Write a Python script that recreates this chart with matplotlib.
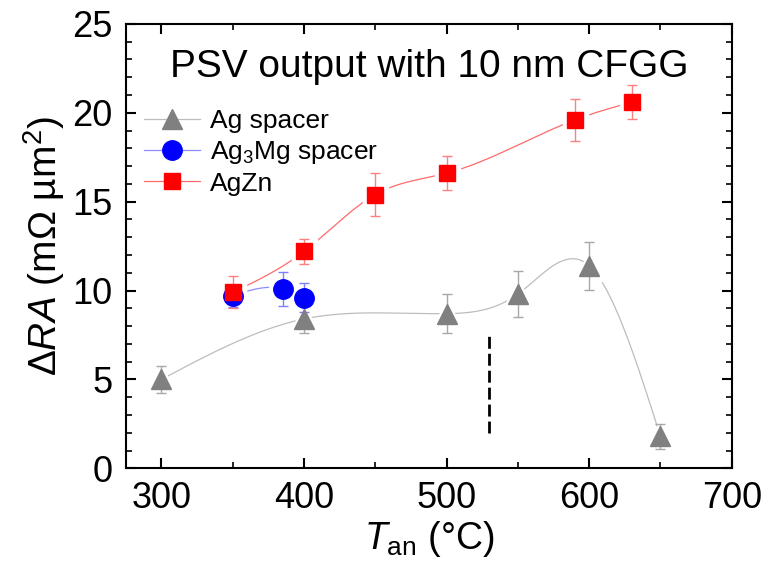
import numpy as np
import matplotlib
matplotlib.use("Agg")
import matplotlib.pyplot as plt

plt.rcParams['font.family'] = ['Liberation Sans', 'DejaVu Sans']
plt.rcParams['mathtext.fontset'] = 'custom'
plt.rcParams['mathtext.rm'] = 'Liberation Sans'
plt.rcParams['mathtext.it'] = 'Liberation Sans:italic'

# ---------------- data ----------------
ag_T = [300, 400, 500, 550, 600, 650]
ag_RA = [5.0, 8.4, 8.7, 9.8, 11.4, 1.8]
ag_err = [0.75, 0.8, 1.1, 1.3, 1.35, 0.7]

mg_T = [350, 385, 400]
mg_RA = [9.7, 10.1, 9.6]
mg_err = [0.6, 0.95, 0.8]

zn_T = [350, 400, 450, 500, 590, 630]
zn_RA = [9.9, 12.2, 15.4, 16.6, 19.6, 20.6]
zn_err = [0.9, 0.7, 1.2, 0.95, 1.2, 0.95]

dash_T = 530
dash_range = [2.0, 7.5]

title_text = "PSV output with 10 nm CFGG"
labels = ["Ag spacer", "Ag$_3$Mg spacer", "AgZn"]


def natural_spline(x, y, n=300):
    x = np.asarray(x, float)
    y = np.asarray(y, float)
    N = len(x)
    h = np.diff(x)
    M = np.zeros(N)
    if N > 2:
        A = np.zeros((N - 2, N - 2))
        b = np.zeros(N - 2)
        for i in range(1, N - 1):
            r = i - 1
            A[r, r] = 2 * (h[i - 1] + h[i])
            if r > 0:
                A[r, r - 1] = h[i - 1]
            if r < N - 3:
                A[r, r + 1] = h[i]
            b[r] = 6 * ((y[i + 1] - y[i]) / h[i] - (y[i] - y[i - 1]) / h[i - 1])
        M[1:-1] = np.linalg.solve(A, b)
    xs = np.linspace(x[0], x[-1], n)
    idx = np.clip(np.searchsorted(x, xs) - 1, 0, N - 2)
    x0, x1 = x[idx], x[idx + 1]
    hh = x1 - x0
    t0 = x1 - xs
    t1 = xs - x0
    ys = (M[idx] * t0 ** 3 / (6 * hh) + M[idx + 1] * t1 ** 3 / (6 * hh)
          + (y[idx] / hh - M[idx] * hh / 6) * t0
          + (y[idx + 1] / hh - M[idx + 1] * hh / 6) * t1)
    return xs, ys


fig = plt.figure(figsize=(7.67, 5.69), dpi=100)
ax = fig.add_axes([0.164, 0.177, 0.790, 0.781])

series = [
    (ag_T, ag_RA, ag_err, '^', 15, '#808080', '#bdbdbd', '#a8a8a8'),
    (mg_T, mg_RA, mg_err, 'o', 14, '#0000ff', '#8c8cff', '#7f7fff'),
    (zn_T, zn_RA, zn_err, 's', 12, '#ff0000', '#ff6a6a', '#ff8080'),
]

handles = []
for (T, RA, err, mk, ms, col, lcol, ecol), lab in zip(series, labels):
    xs, ys = natural_spline(T, RA)
    ax.plot(xs, ys, color=lcol, lw=0.9, zorder=1)
    # white halo to give a gap between curve and symbol
    ax.plot(T, RA, ls='none', marker=mk, ms=ms + 6, mfc='white', mec='white', zorder=2)
    ax.errorbar(T, RA, yerr=err, fmt='none', ecolor=ecol, elinewidth=1.0,
                capsize=3.6, capthick=1.0, zorder=3)
    ax.plot(T, RA, ls='none', marker=mk, ms=ms, mfc=col, mec=col, zorder=4)
    h, = ax.plot([], [], color=lcol, lw=0.9, marker=mk, ms=ms, mfc=col, mec=col)
    handles.append(h)

ax.plot([dash_T, dash_T], dash_range, color='black', lw=2.0, dashes=(4.3, 1.8), zorder=1)

ax.set_xlim(275, 700)
ax.set_ylim(0, 25)
ax.set_xticks([300, 400, 500, 600, 700])
ax.set_xticks(np.arange(300, 700, 50), minor=True)
ax.set_yticks([0, 5, 10, 15, 20, 25])
ax.set_yticks(np.arange(0, 25, 1), minor=True)
ax.tick_params(which='both', direction='in', top=True, right=True, labelsize=26, pad=9.5)
ax.tick_params(which='major', length=7, width=1.5)
ax.tick_params(which='minor', length=4, width=1.2)
for s in ax.spines.values():
    s.set_linewidth(1.5)

ax.set_xlabel(r'$\mathit{T}_{\mathrm{an}}$ (°C)', fontsize=27, labelpad=2)
ax.set_ylabel(r'Δ$\mathit{RA}$ (mΩ µm$^{2}$)', fontsize=28, labelpad=4)

ax.text(0.5, 0.88, title_text, transform=ax.transAxes, ha='center', va='baseline', fontsize=28)

ax.legend(handles, labels, loc='upper left', bbox_to_anchor=(0.0, 0.85), frameon=False,
          fontsize=19, handlelength=2.1, handletextpad=0.4, labelspacing=0.22,
          borderaxespad=0.3, numpoints=1)

fig.savefig('out.png', dpi=100)
